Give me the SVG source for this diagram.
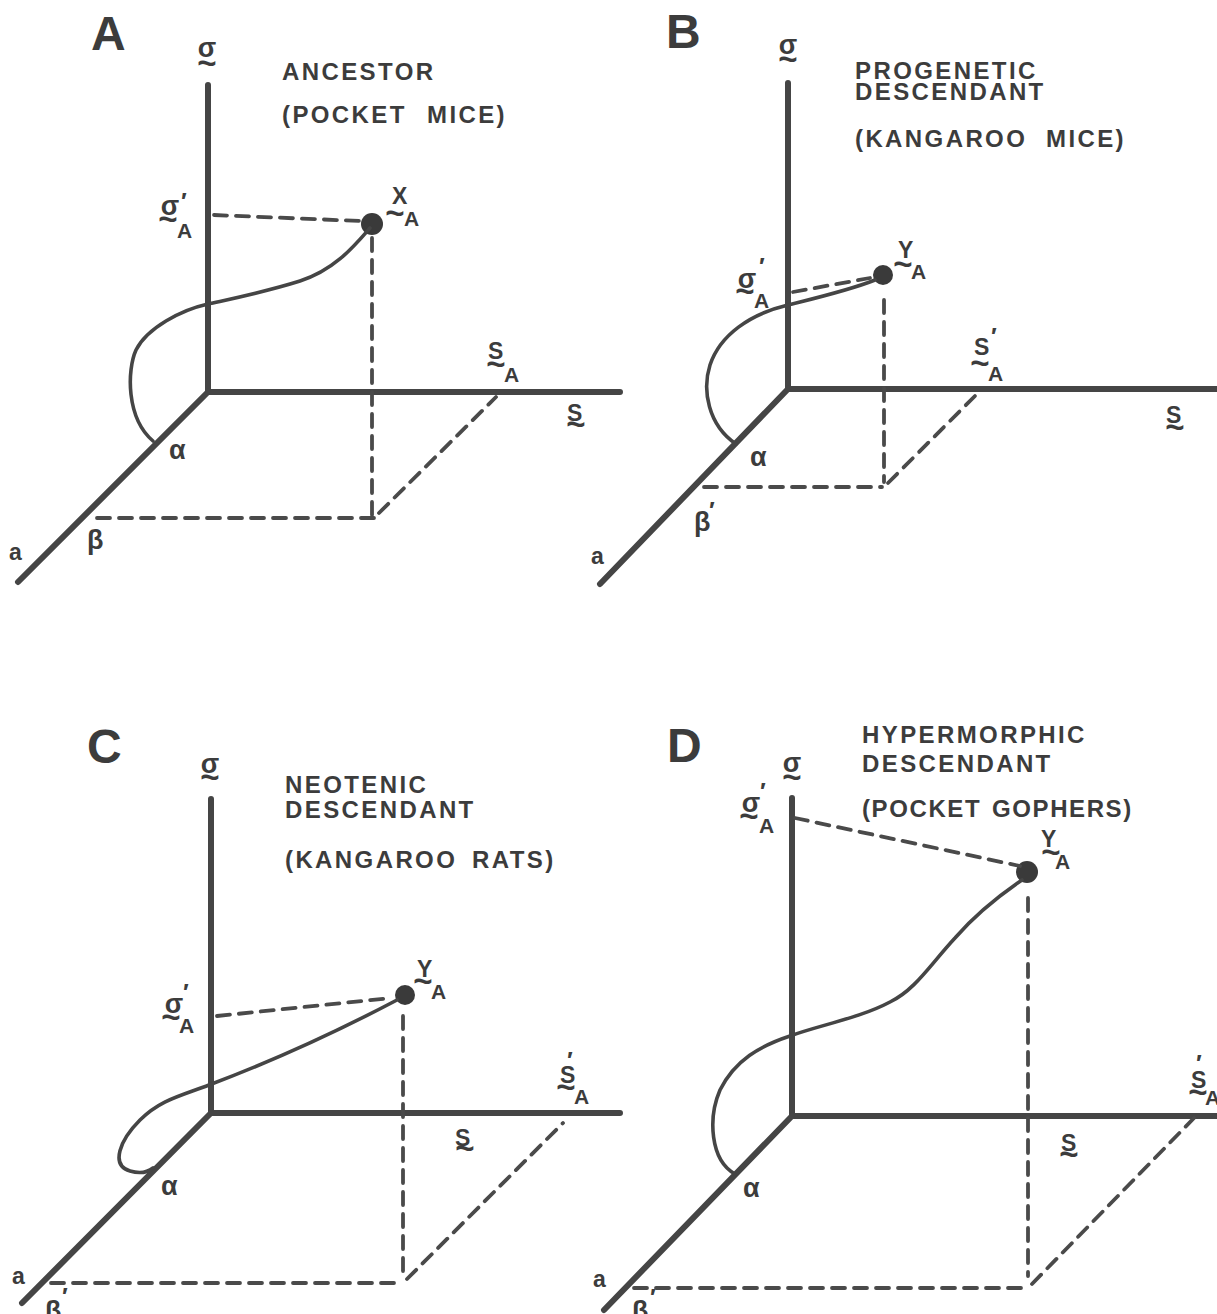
<svg xmlns="http://www.w3.org/2000/svg" width="1217" height="1314" viewBox="0 0 1217 1314">
<style>
text{font-family:"Liberation Sans",Arial,"DejaVu Sans",sans-serif;fill:#3c3c3c;font-weight:bold}
.pl{font-size:48px}
.tt{font-size:24px;letter-spacing:2.4px}
.g{font-size:27px}
.v{font-size:23px}
.sub{font-size:21px}
.tl{font-size:33px;text-anchor:middle}
.mid{text-anchor:middle}
.pr{font-size:24px}
.ax{stroke:#454545;stroke-width:6;fill:none;stroke-linecap:round;stroke-linejoin:round}
.cv{stroke:#454545;stroke-width:3.6;fill:none;stroke-linecap:round}
.ds{stroke:#4a4a4a;stroke-width:3.8;fill:none;stroke-dasharray:13 9;stroke-linecap:round}
.dot{fill:#3a3a3a}
</style>
<rect width="1217" height="1314" fill="#ffffff"/>

<g id="panelA">
  <text class="pl" x="91" y="50">A</text>
  <text class="tt" x="282" y="80">ANCESTOR</text>
  <text class="tt" x="282" y="123">(POCKET <tspan x="427">MICE)</tspan></text>
  <g id="axesA">
    <path class="ax" d="M208,85 V392 H620"/>
    <path class="ax" d="M208,392 L18,582"/>
  </g>
  <text class="g mid" x="207" y="57">σ</text><text class="tl" x="207" y="74">~</text>
  <text class="g mid" x="170" y="215">σ</text><text class="tl" x="168" y="230">~</text><text class="sub" x="177" y="238">A</text><text class="pr" x="181" y="210">′</text>
  <text class="v" x="392" y="204">X</text><text class="tl" x="395" y="224">~</text><text class="sub" x="404" y="226">A</text>
  <text class="v" x="488" y="359">S</text><text class="tl" x="496" y="375">~</text><text class="sub" x="504" y="382">A</text>
  <text class="v" x="567" y="421">S</text><text class="tl" x="576" y="435">~</text>
  <text class="g" x="169" y="459">α</text>
  <text class="g" x="87" y="549">β</text>
  <text class="v" x="9" y="560">a</text>
  <circle class="dot" cx="372" cy="224" r="11"/>
</g>

<g id="panelB">
  <text class="pl" x="666" y="48">B</text>
  <text class="tt" x="855" y="79">PROGENETIC</text>
  <text class="tt" x="855" y="100">DESCENDANT</text>
  <text class="tt" x="855" y="147">(KANGAROO <tspan x="1046">MICE)</tspan></text>
  <g id="axesB">
    <path class="ax" d="M788,83 V389 H1217"/>
    <path class="ax" d="M788,389 L600,584"/>
  </g>
  <text class="g mid" x="788" y="54">σ</text><text class="tl" x="788" y="70">~</text>
  <text class="g mid" x="747" y="288">σ</text><text class="tl" x="745" y="302">~</text><text class="sub" x="754" y="308">A</text><text class="pr" x="759" y="275">′</text>
  <text class="v" x="898" y="258">Y</text><text class="tl" x="903" y="275">~</text><text class="sub" x="911" y="279">A</text>
  <text class="v" x="974" y="355">S</text><text class="tl" x="980" y="374">~</text><text class="sub" x="988" y="381">A</text><text class="pr" x="991" y="345">′</text>
  <text class="v" x="1166" y="423">S</text><text class="tl" x="1175" y="438">~</text>
  <text class="g" x="750" y="466">α</text>
  <text class="g" x="694" y="531">β</text><text class="pr" x="709" y="519">′</text>
  <text class="v" x="591" y="564">a</text>
  <circle class="dot" cx="883" cy="275" r="10"/>
</g>

<g id="panelC">
  <text class="pl" x="87" y="763">C</text>
  <text class="tt" x="285" y="793">NEOTENIC</text>
  <text class="tt" x="285" y="818">DESCENDANT</text>
  <text class="tt" x="285" y="868">(KANGAROO <tspan x="472">RATS)</tspan></text>
  <g id="axesC">
    <path class="ax" d="M211,799 V1113 H620"/>
    <path class="ax" d="M211,1113 L22,1303"/>
  </g>
  <text class="g mid" x="210" y="773">σ</text><text class="tl" x="210" y="788">~</text>
  <text class="g mid" x="174" y="1013">σ</text><text class="tl" x="171" y="1028">~</text><text class="sub" x="179" y="1033">A</text><text class="pr" x="183" y="1001">′</text>
  <text class="v" x="417" y="977">Y</text><text class="tl" x="423" y="992">~</text><text class="sub" x="431" y="999">A</text>
  <text class="v" x="560" y="1083">S</text><text class="tl" x="566" y="1098">~</text><text class="sub" x="574" y="1104">A</text><text class="pr" x="567" y="1069">′</text>
  <text class="v" x="455" y="1146">S</text><text class="tl" x="465" y="1159">~</text>
  <text class="g" x="161" y="1195">α</text>
  <text class="g" x="45" y="1320">β</text><text class="pr" x="62" y="1305">′</text>
  <text class="v" x="12" y="1284">a</text>
  <circle class="dot" cx="405" cy="995" r="10"/>
</g>

<g id="panelD">
  <text class="pl" x="667" y="762">D</text>
  <text class="tt" x="862" y="743">HYPERMORPHIC</text>
  <text class="tt" x="862" y="772">DESCENDANT</text>
  <text class="tt" x="862" y="817" style="letter-spacing:1.6px">(POCKET <tspan x="992">GOPHERS)</tspan></text>
  <g id="axesD">
    <path class="ax" d="M792,798 V1116 H1217"/>
    <path class="ax" d="M792,1116 L604,1310"/>
  </g>
  <text class="g mid" x="792" y="772">σ</text><text class="tl" x="792" y="788">~</text>
  <text class="g mid" x="751" y="812">σ</text><text class="tl" x="749" y="827">~</text><text class="sub" x="759" y="833">A</text><text class="pr" x="760" y="800">′</text>
  <text class="v" x="1041" y="847">Y</text><text class="tl" x="1051" y="863">~</text><text class="sub" x="1055" y="869">A</text>
  <text class="v" x="1191" y="1088">S</text><text class="tl" x="1198" y="1103">~</text><text class="sub" x="1205" y="1105">A</text><text class="pr" x="1196" y="1072">′</text>
  <text class="v" x="1061" y="1151">S</text><text class="tl" x="1069" y="1165">~</text>
  <text class="g" x="743" y="1197">α</text>
  <text class="g" x="632" y="1320">β</text><text class="pr" x="650" y="1306">′</text>
  <text class="v" x="593" y="1287">a</text>
  <circle class="dot" cx="1027" cy="872" r="11"/>
</g>

<g id="connectors">
  <!-- A -->
  <path class="ds" d="M214,215 L360,221"/>
  <path class="ds" d="M372,238 L372,515"/>
  <path class="ds" d="M97,518 L374,518"/>
  <path class="ds" d="M379,513 L496,397"/>
  <path class="cv" d="M370,228 C355,245 335,270 300,281 C265,292 235,298 208,304 C181,310 147,328 136,350 C127,370 126,418 153,441"/>
  <!-- B -->
  <path class="ds" d="M793,292 L870,278"/>
  <path class="ds" d="M884,300 L884,482"/>
  <path class="ds" d="M704,487 L882,487"/>
  <path class="ds" d="M888,483 L976,395"/>
  <path class="cv" d="M875,280 C850,290 820,297 788,305 C750,314 720,335 710,365 C702,390 708,425 736,444"/>
  <!-- C -->
  <path class="ds" d="M217,1016 L391,998"/>
  <path class="ds" d="M403,1016 L403,1277"/>
  <path class="ds" d="M51,1283 L399,1283"/>
  <path class="ds" d="M407,1279 L563,1123"/>
  <path class="cv" d="M397,1000 C340,1030 270,1062 209,1085 C180,1096 160,1100 140,1120 C120,1140 110,1165 130,1171 C140,1174 148,1172 153,1168"/>
  <!-- D -->
  <path class="ds" d="M795,818 L1020,866"/>
  <path class="ds" d="M1028,898 L1028,1276"/>
  <path class="ds" d="M634,1288 L1026,1288"/>
  <path class="ds" d="M1032,1284 L1194,1118"/>
  <path class="cv" d="M1022,880 C1000,895 975,915 955,938 C930,965 915,990 890,1002 C860,1018 820,1025 790,1036 C760,1046 735,1060 720,1090 C708,1118 710,1160 735,1174"/>
</g>
</svg>
